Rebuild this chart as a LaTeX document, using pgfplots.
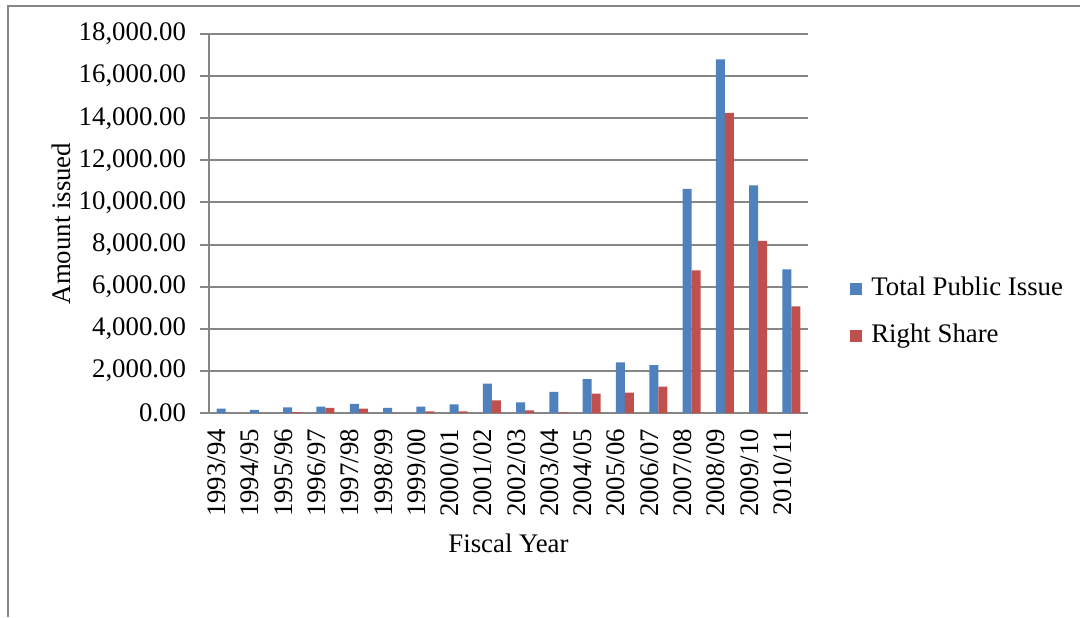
\documentclass[border=0pt]{standalone}
\usepackage{fontspec}
\setmainfont{Liberation Serif}
\usepackage{pgfplots}
\pgfplotsset{compat=1.18}
\usepackage{pgfplotstable}

\definecolor{tpi}{HTML}{4F81BD}
\definecolor{rs}{HTML}{C0504D}
\definecolor{gridgray}{RGB}{134,134,134}
\newcommand\chartfont{\fontsize{13.4}{15}\selectfont}

% amounts issued by fiscal year
\pgfplotstableread{
idx year    total  right
0   1993/94 210    0
1   1994/95 150    0
2   1995/96 270    40
3   1996/97 305    240
4   1997/98 430    210
5   1998/99 240    0
6   1999/00 305    80
7   2000/01 415    80
8   2001/02 1400   605
9   2002/03 510    130
10  2003/04 1000   30
11  2004/05 1605   925
12  2005/06 2400   970
13  2006/07 2270   1255
14  2007/08 10650  6775
15  2008/09 16800  14250
16  2009/10 10810  8180
17  2010/11 6825   5060
}\issues

\begin{document}
\begin{tikzpicture}
\useasboundingbox (0,0) rectangle (540pt,308.5pt);
\draw[gridgray, line width=0.75pt] (4pt,0) -- (4pt,305.5pt) -- (540pt,305.5pt);
\begin{axis}[
  at={(104.5pt,102pt)}, anchor=south west,
  scale only axis,
  width=299.5pt, height=189.5pt,
  ybar=0pt, bar width=4.5pt,
  xmin=-0.5, xmax=17.5,
  ymin=0, ymax=18000,
  ytick distance=2000,
  xtick=data,
  xticklabels from table={\issues}{year},
  x tick label style={rotate=90, anchor=base east},
  major x tick style={draw=none},
  tick label style={font=\chartfont},
  /pgf/number format/assume math mode=true,
  yticklabel style={xshift=-3.5pt, /pgf/number format/.cd, fixed, fixed zerofill, precision=2, 1000 sep={,}},
  scaled y ticks=false,
  tick align=outside,
  major tick length=4.5pt,
  axis x line*=bottom, axis y line*=left,
  axis line style={gridgray, line width=1pt, -},
  major tick style={gridgray, line width=1pt},
  ymajorgrids,
  major grid style={gridgray, line width=1pt},
  xlabel={Fiscal Year}, ylabel={Amount issued},
  every axis x label/.style={at={(axis description cs:0.5,-0.367)}, anchor=base, font=\chartfont},
  every axis y label/.style={at={(axis description cs:-0.232,0.5)}, anchor=base, rotate=90, font=\chartfont},
  legend style={at={(axis description cs:1.07,0.2685)}, anchor=west, draw=none, fill=none,
    font=\chartfont, inner sep=0pt, row sep=8.5pt,
    nodes={inner xsep=4.5pt}},
  legend cell align=left,
  legend image code/.code={\fill[#1] (0pt,-3.5pt) rectangle (6pt,2.5pt);},
]
\addplot[fill=tpi, draw=none] table[x=idx, y=total] {\issues};
\addplot[fill=rs, draw=none] table[x=idx, y=right] {\issues};
\legend{Total Public Issue, Right Share}
\end{axis}
\end{tikzpicture}
\end{document}
